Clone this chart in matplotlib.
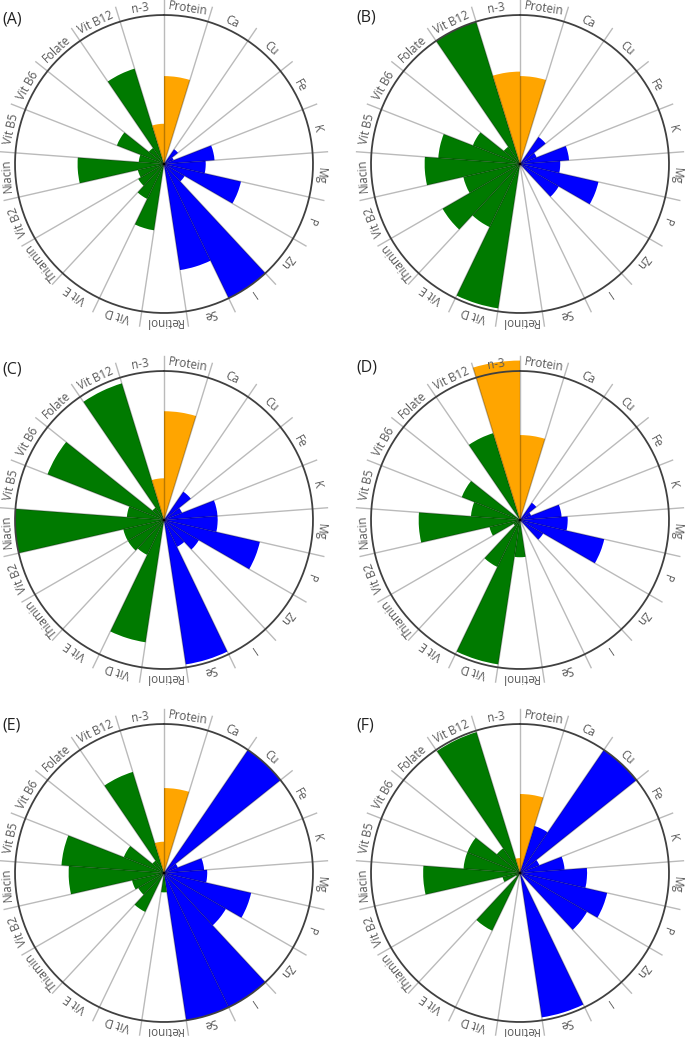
import numpy as np
import matplotlib
matplotlib.use("Agg")
import matplotlib.pyplot as plt

plt.rcParams['font.family'] = ['Open Sans', 'DejaVu Sans']

nutrients = ['Protein', 'Ca', 'Cu', 'Fe', 'K', 'Mg', 'P', 'Zn', 'I', 'Se',
             'Retinol', 'Vit D', 'Vit E', 'Thiamin', 'Vit B2', 'Niacin',
             'Vit B5', 'Vit B6', 'Folate', 'Vit B12', 'n-3']
group = ['o', 'b', 'b', 'b', 'b', 'b', 'b', 'b', 'b', 'b',
         'g', 'g', 'g', 'g', 'g', 'g', 'g', 'g', 'g', 'g', 'o']

panel_a = [0.59, 0, 0.12, 0.07, 0.34, 0.28, 0.53, 0.16, 1.0, 0.72, 0,
           0.45, 0.26, 0.20, 0.18, 0.58, 0.17, 0.34, 0.13, 0.67, 0.27]
panel_b = [0.59, 0, 0.22, 0.12, 0.33, 0.27, 0.54, 0.30, 0, 0, 0,
           0.98, 0.47, 0.60, 0.39, 0.64, 0.55, 0.34, 0.14, 1.0, 0.62]
panel_c = [0.73, 0, 0.23, 0.13, 0.36, 0.36, 0.66, 0.27, 0.20, 0.98, 0,
           0.83, 0.26, 0.28, 0.28, 1.0, 0.25, 0.84, 0.10, 0.96, 0.28]
panel_d = [0.57, 0, 0.14, 0.08, 0.28, 0.32, 0.58, 0.18, 0, 0, 0.25,
           0.98, 0.35, 0.05, 0.21, 0.68, 0.33, 0.42, 0, 0.61, 1.07]
panel_e = [0.57, 0, 1.0, 0.10, 0.27, 0.29, 0.60, 0.48, 1.0, 1.0, 0.13,
           0, 0.29, 0.20, 0.22, 0.64, 0.69, 0.29, 0.10, 0.71, 0.21]
panel_f = [0.53, 0.33, 1.0, 0.14, 0.30, 0.45, 0.60, 0.52, 0, 0.98, 0,
           0, 0.43, 0.03, 0.12, 0.65, 0.38, 0.38, 0.20, 0.99, 0.10]

panels = [('(A)', panel_a), ('(B)', panel_b), ('(C)', panel_c),
          ('(D)', panel_d), ('(E)', panel_e), ('(F)', panel_f)]

colours = {'o': '#FFA500', 'b': '#0000FF', 'g': '#007A00'}

W, H = 685, 1037
fig = plt.figure(figsize=(W / 100, H / 100), dpi=100)

# panel centres in pixels (from top-left), radius of the unit circle
centres = [(164, 164), (520, 164), (164, 520), (520, 520), (164, 873), (520, 873)]
letter_pos = [(2, 19), (356, 18), (2, 369), (356, 368), (2, 726), (356, 725)]
R = 149
rmax = 1.12
half = R * rmax

n = len(nutrients)
step = 2 * np.pi / n
edges = np.arange(n) * step

for (letter, vals), (cx, cy), (lx, ly) in zip(panels, centres, letter_pos):
    ax = fig.add_axes([(cx - half) / W, (H - cy - half) / H, 2 * half / W, 2 * half / H],
                      projection='polar')
    ax.set_theta_zero_location('N')
    ax.set_theta_direction(-1)
    ax.set_ylim(0, rmax)
    ax.set_axis_off()

    ax.bar(edges, vals, width=step, align='edge',
           color=[colours[g] for g in group], linewidth=0, zorder=2)

    for a in edges:
        ax.plot([a, a], [0, 1.1], color='k', alpha=0.27, lw=1.0, zorder=3,
                clip_on=False)
    t = np.linspace(0, 2 * np.pi, 400)
    ax.plot(t, np.ones_like(t), color='#404040', lw=1.3, zorder=4, clip_on=False)

    for i, name in enumerate(nutrients):
        mid = edges[i] + step / 2
        ax.text(mid, 1.012, name, rotation=-np.degrees(mid), rotation_mode='anchor',
                ha='center', va='bottom', fontsize=8.4, color='#595959',
                clip_on=False)

    fig.text(lx / W, 1 - ly / H, letter, fontsize=11.5, color='#222222',
             ha='left', va='center')

fig.savefig('out.png', dpi=100)
